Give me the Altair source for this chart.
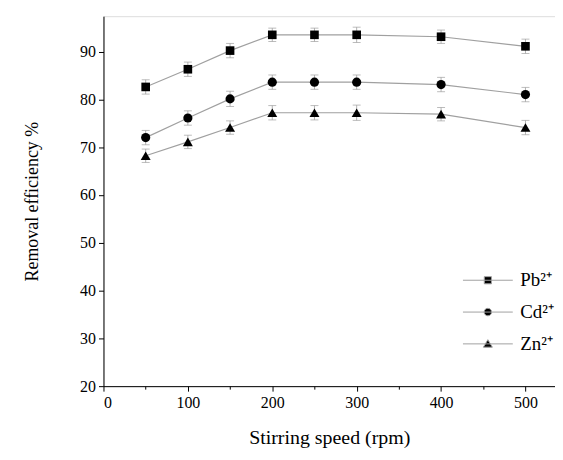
import altair as alt
import pandas as pd

# ---- data ----
speeds = [50, 100, 150, 200, 250, 300, 400, 500]
series_names = ["Pb²⁺", "Cd²⁺", "Zn²⁺"]
pb_values = [82.6, 86.3, 90.2, 93.5, 93.5, 93.5, 93.1, 91.1]
cd_values = [72.0, 76.1, 80.1, 83.6, 83.6, 83.6, 83.1, 81.0]
zn_values = [68.2, 71.1, 74.1, 77.2, 77.2, 77.2, 76.9, 74.1]
pb_err = [1.5, 1.5, 1.5, 1.4, 1.4, 1.6, 1.4, 1.5]
cd_err = [1.5, 1.5, 1.6, 1.5, 1.5, 1.5, 1.5, 1.5]
zn_err = [1.4, 1.4, 1.4, 1.5, 1.5, 1.6, 1.4, 1.5]
x_ticks = [0, 50, 100, 150, 200, 250, 300, 350, 400, 450, 500]
y_ticks = [20, 25, 30, 35, 40, 45, 50, 55, 60, 65, 70, 75, 80, 85, 90, 95]

F = "Liberation Serif"
LINE_GREY = "#a0a0a0"

rows = []
for name, vals, errs in zip(series_names, [pb_values, cd_values, zn_values], [pb_err, cd_err, zn_err]):
    for s, v, e in zip(speeds, vals, errs):
        rows.append({"series": name, "speed": s, "value": v, "lo": v - e, "hi": v + e})
df = pd.DataFrame(rows)

x_axis = alt.Axis(
    values=x_ticks,
    labelExpr="datum.value % 100 === 0 ? datum.label : ''",
    tickSize={"condition": {"test": "datum.value % 100 === 0", "value": 5}, "value": 3},
    grid=False, domainColor="black", tickColor="black", labelColor="black",
    labelFont=F, labelFontSize=16, labelPadding=3,
    title="Stirring speed (rpm)", titleFont=F, titleFontSize=20,
    titleFontWeight="normal", titleColor="black", titlePadding=18,
)
y_axis = alt.Axis(
    values=y_ticks,
    labelExpr="datum.value % 10 === 0 ? datum.label : ''",
    tickSize={"condition": {"test": "datum.value % 10 === 0", "value": 5}, "value": 3},
    grid=False, domainColor="black", tickColor="black", labelColor="black",
    labelFont=F, labelFontSize=16, labelPadding=3,
    title="Removal efficiency %", titleFont=F, titleFontSize=18,
    titleFontWeight="normal", titleColor="black", titlePadding=38,
)

X = alt.X("speed:Q", scale=alt.Scale(domain=[0, 535], nice=False, zero=False), axis=x_axis)
Y = alt.Y("value:Q", scale=alt.Scale(domain=[20, 97.4], nice=False, zero=False), axis=y_axis)

base = alt.Chart(df)

lines = base.mark_line(color=LINE_GREY, strokeWidth=1.2).encode(x=X, y=Y, detail="series:N")
err_rules = base.mark_rule(color="#b0b0b0", strokeWidth=1).encode(
    x="speed:Q", y="lo:Q", y2="hi:Q")
cap_hi = base.mark_tick(orient="horizontal", color="#a0a0a0", size=8, thickness=1).encode(
    x="speed:Q", y="hi:Q")
cap_lo = base.mark_tick(orient="horizontal", color="#a0a0a0", size=8, thickness=1).encode(
    x="speed:Q", y="lo:Q")

shapes = ["square", "circle", "triangle-up"]
sizes = [75, 85, 100]
point_layers = []
for name, shp, sz in zip(series_names, shapes, sizes):
    point_layers.append(
        base.transform_filter(alt.datum.series == name)
        .mark_point(filled=True, color="black", opacity=1, shape=shp, size=sz)
        .encode(x=X, y=Y)
    )

legend_paths = [
    "M-1.67,0H1.67M-0.24,-0.24H0.24V0.24H-0.24Z",
    "M-1.67,0H1.67M-0.25,0A0.25,0.25 0 1,0 0.25,0A0.25,0.25 0 1,0 -0.25,0Z",
    "M-1.67,0H1.67M0,-0.28L0.3,0.22L-0.3,0.22Z",
]
legend_props = dict(
    title=None, orient="none", legendX=371, legendY=250,
    symbolSize=900, symbolOpacity=1, symbolStrokeWidth=1,
    labelFont=F, labelFontSize=19, labelColor="black",
    labelOffset=17, rowPadding=6, padding=0,
)
legend_layer = base.mark_point(
    filled=False, fill="black", strokeWidth=1, opacity=0
).encode(
    x=X, y=Y,
    shape=alt.Shape(
        "series:N",
        scale=alt.Scale(domain=series_names, range=legend_paths),
        sort=series_names,
        legend=alt.Legend(**legend_props),
    ),
    color=alt.Color(
        "series:N",
        scale=alt.Scale(domain=series_names, range=[LINE_GREY, LINE_GREY, LINE_GREY]),
        sort=series_names,
        legend=alt.Legend(**legend_props),
    ),
)

chart = alt.layer(lines, err_rules, cap_hi, cap_lo, *point_layers, legend_layer).properties(
    width=454, height=372,
    autosize=alt.AutoSizeParams(type="none"),
    padding={"left": 96, "top": 7, "right": 0, "bottom": 70},
).configure_view(stroke=None).configure(background="white")

chart.save("out.html", embed_options={"renderer": "svg", "actions": False})
